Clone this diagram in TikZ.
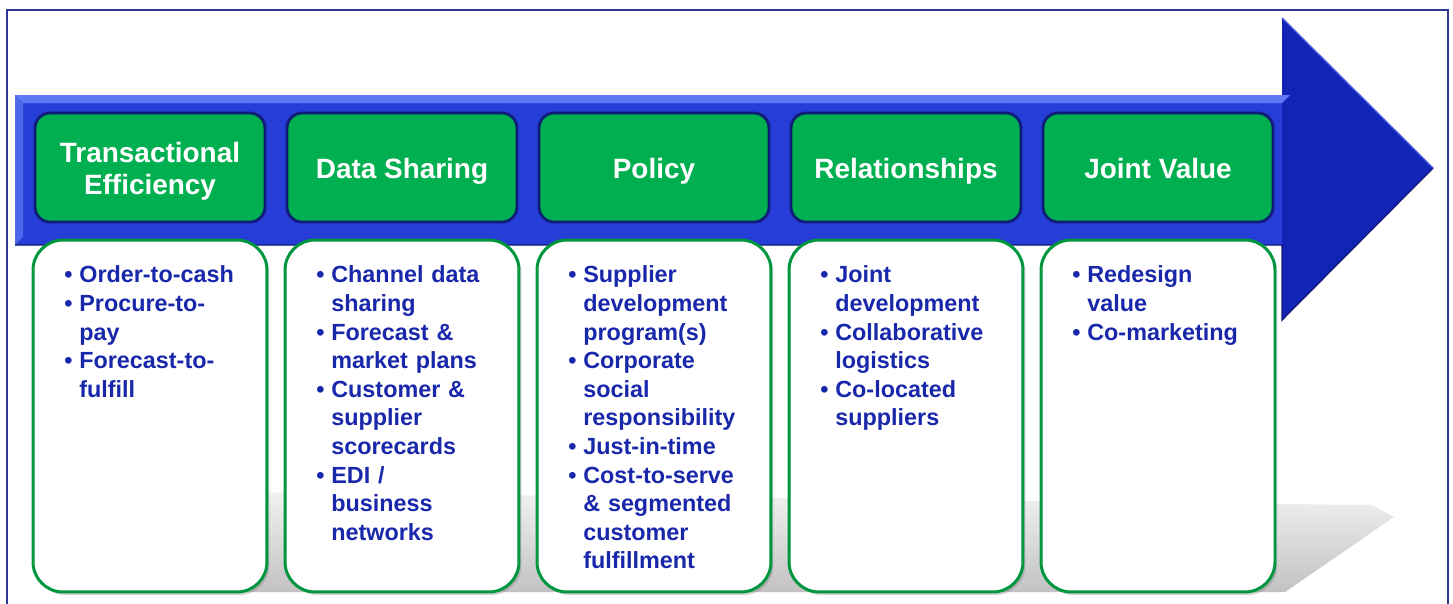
\documentclass[tikz,border=0pt]{standalone}
\usepackage{fontspec}
\setmainfont{Liberation Sans}
\usetikzlibrary{shadows}

\definecolor{framecol}{RGB}{45,55,150}
\definecolor{shaftblue}{RGB}{38,62,215}
\definecolor{headblue}{RGB}{18,36,182}
\definecolor{bevelblue}{RGB}{95,120,245}
\definecolor{stepgreen}{RGB}{0,176,80}
\definecolor{edgegreen}{RGB}{0,150,62}
\definecolor{navy}{RGB}{15,28,120}
\definecolor{textblue}{RGB}{25,40,170}

% bullet line, and a wrapped line under it
\newcommand{\itm}[1]{\par\noindent\makebox[0.3cm][l]{\textbullet}#1}
\newcommand{\nxt}[1]{\par\noindent\hspace*{0.3cm}#1}
\newcommand{\hd}[1]{\raisebox{-0.08cm}[\height][\depth]{#1\vphantom{g}}}

\begin{document}
\begin{tikzpicture}[x=0.02cm,y=-0.02cm,
    stagebox/.style={draw=navy, line width=1.6pt, fill=stepgreen, rounded corners=0.3cm,
      minimum width=4.6cm, minimum height=2.18cm, text=white, align=center,
      font=\bfseries\fontsize{15.9}{18.2}\selectfont},
    listbox/.style={draw=edgegreen, line width=1.7pt, fill=white, rounded corners=0.6cm,
      minimum width=4.68cm, minimum height=7.04cm,
      drop shadow={shadow xshift=0.05cm, shadow yshift=-0.06cm, opacity=0.35}},
    listtext/.style={anchor=north west, inner sep=0pt, text width=4.1cm, text=textblue,
      align=left, font=\bfseries\fontsize{13.3}{16.27}\selectfont}]

        \useasboundingbox (0,0) rectangle (1453,603);

        % frame
        \draw[framecol, line width=1.2pt] (7,620) -- (7,10) -- (1448,10) -- (1448,620);

        % flat shadow of the arrow
        \shade[top color=black!5, bottom color=black!24] (60,490) -- (1372,505) -- (1394,517)
            -- (1285,592) -- (60,592) -- cycle;

        % arrow
        \fill[headblue] (15,95) -- (1282,95) -- (1282,18) -- (1433,168) -- (1282,320)
            -- (1282,245) -- (15,245) -- cycle;
        \fill[shaftblue] (15,95) rectangle (1282,245);
        \fill[bevelblue] (15,95) -- (1290,95) -- (1282,103) -- (23,103) -- cycle;
        \fill[bevelblue!70!shaftblue] (15,95) -- (23,103) -- (23,237) -- (15,245) -- cycle;
        \draw[navy, line width=0.8pt] (15,245) -- (1282,245) -- (1282,320) -- (1433,168);
        \draw[bevelblue!60!headblue, line width=0.8pt] (1282,18) -- (1433,168);

        \def\top{167.5}
        \def\gap{252}

        % stages
        \node[stagebox] (s1) at (150,\top) {\hd{Transactional}\\\hd{Efficiency}};
        \node[stagebox] (s2) at (150+\gap,\top) {\hd{Data Sharing}};
        \node[stagebox] (s3) at (150+2*\gap,\top) {\hd{Policy}};
        \node[stagebox] (s4) at (150+3*\gap,\top) {\hd{Relationships}};
        \node[stagebox] (s5) at (150+4*\gap,\top) {\hd{Joint Value}};

        % lists
        \foreach \i in {1,...,5}
          \node[listbox] (b\i) at (150+\i*\gap-\gap,416) {};

        \node[listtext] (t1) at (64,254) {
          \itm{Order-to-cash}
          \itm{Procure-to-}\nxt{pay}
          \itm{Forecast-to-}\nxt{fulfill}};
        \node[listtext] (t2) at (64+\gap,254) {
          \itm{Channel data}\nxt{sharing}
          \itm{Forecast \&}\nxt{market plans}
          \itm{Customer \&}\nxt{supplier}\nxt{scorecards}
          \itm{EDI /}\nxt{business}\nxt{networks}};
        \node[listtext] (t3) at (64+2*\gap,254) {
          \itm{Supplier}\nxt{development}\nxt{program(s)}
          \itm{Corporate}\nxt{social}\nxt{responsibility}
          \itm{Just-in-time}
          \itm{Cost-to-serve}\nxt{\& segmented}\nxt{customer}\nxt{fulfillment}};
        \node[listtext] (t4) at (64+3*\gap,254) {
          \itm{Joint}\nxt{development}
          \itm{Collaborative}\nxt{logistics}
          \itm{Co-located}\nxt{suppliers}};
        \node[listtext] (t5) at (64+4*\gap,254) {
          \itm{Redesign}\nxt{value}
          \itm{Co-marketing}};

      \end{tikzpicture}
\end{document}
